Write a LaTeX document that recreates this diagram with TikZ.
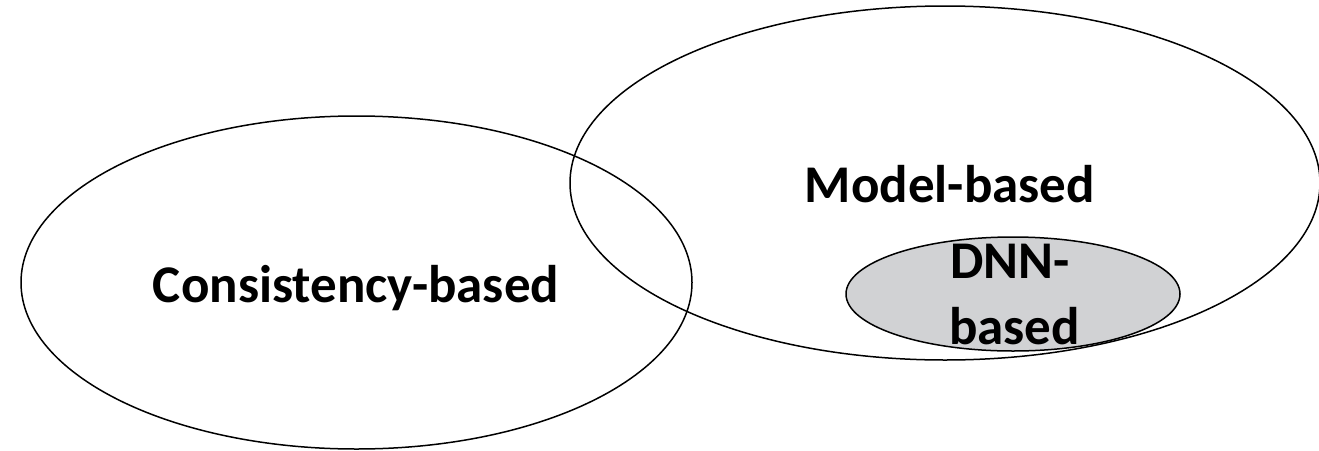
\documentclass[tikz,border=0pt]{standalone}
\usepackage{fontspec}
\setmainfont{Carlito}
\usetikzlibrary{shapes.geometric}
\definecolor{dnngray}{RGB}{209,210,212}
\begin{document}
\begin{tikzpicture}[x=1pt,y=-1pt,
  venn/.style={draw=black, line width=1.5pt, ellipse, inner sep=0pt, outer sep=0pt},
  lbl/.style={font=\fontsize{53}{64}\selectfont\bfseries, anchor=base, inner sep=0pt}]
\useasboundingbox (0,0) rectangle (1319,450);
\node[venn, minimum width=671pt, minimum height=333pt] (cons) at (356.5,282.5) {};
\node[venn, minimum width=750pt, minimum height=354pt] (model) at (945,183) {};
\node[venn, fill=dnngray, minimum width=334pt, minimum height=114pt] (dnn) at (1013,294) {};
\node[lbl] (conslbl) at (356,302) {Consistency-based};
\node[lbl] (modellbl) at (950,202) {Model-based};
\node[lbl] (dnnlbl1) at (1010,278) {DNN-};
\node[lbl] (dnnlbl2) at (1014.5,344) {based};
\end{tikzpicture}
\end{document}
